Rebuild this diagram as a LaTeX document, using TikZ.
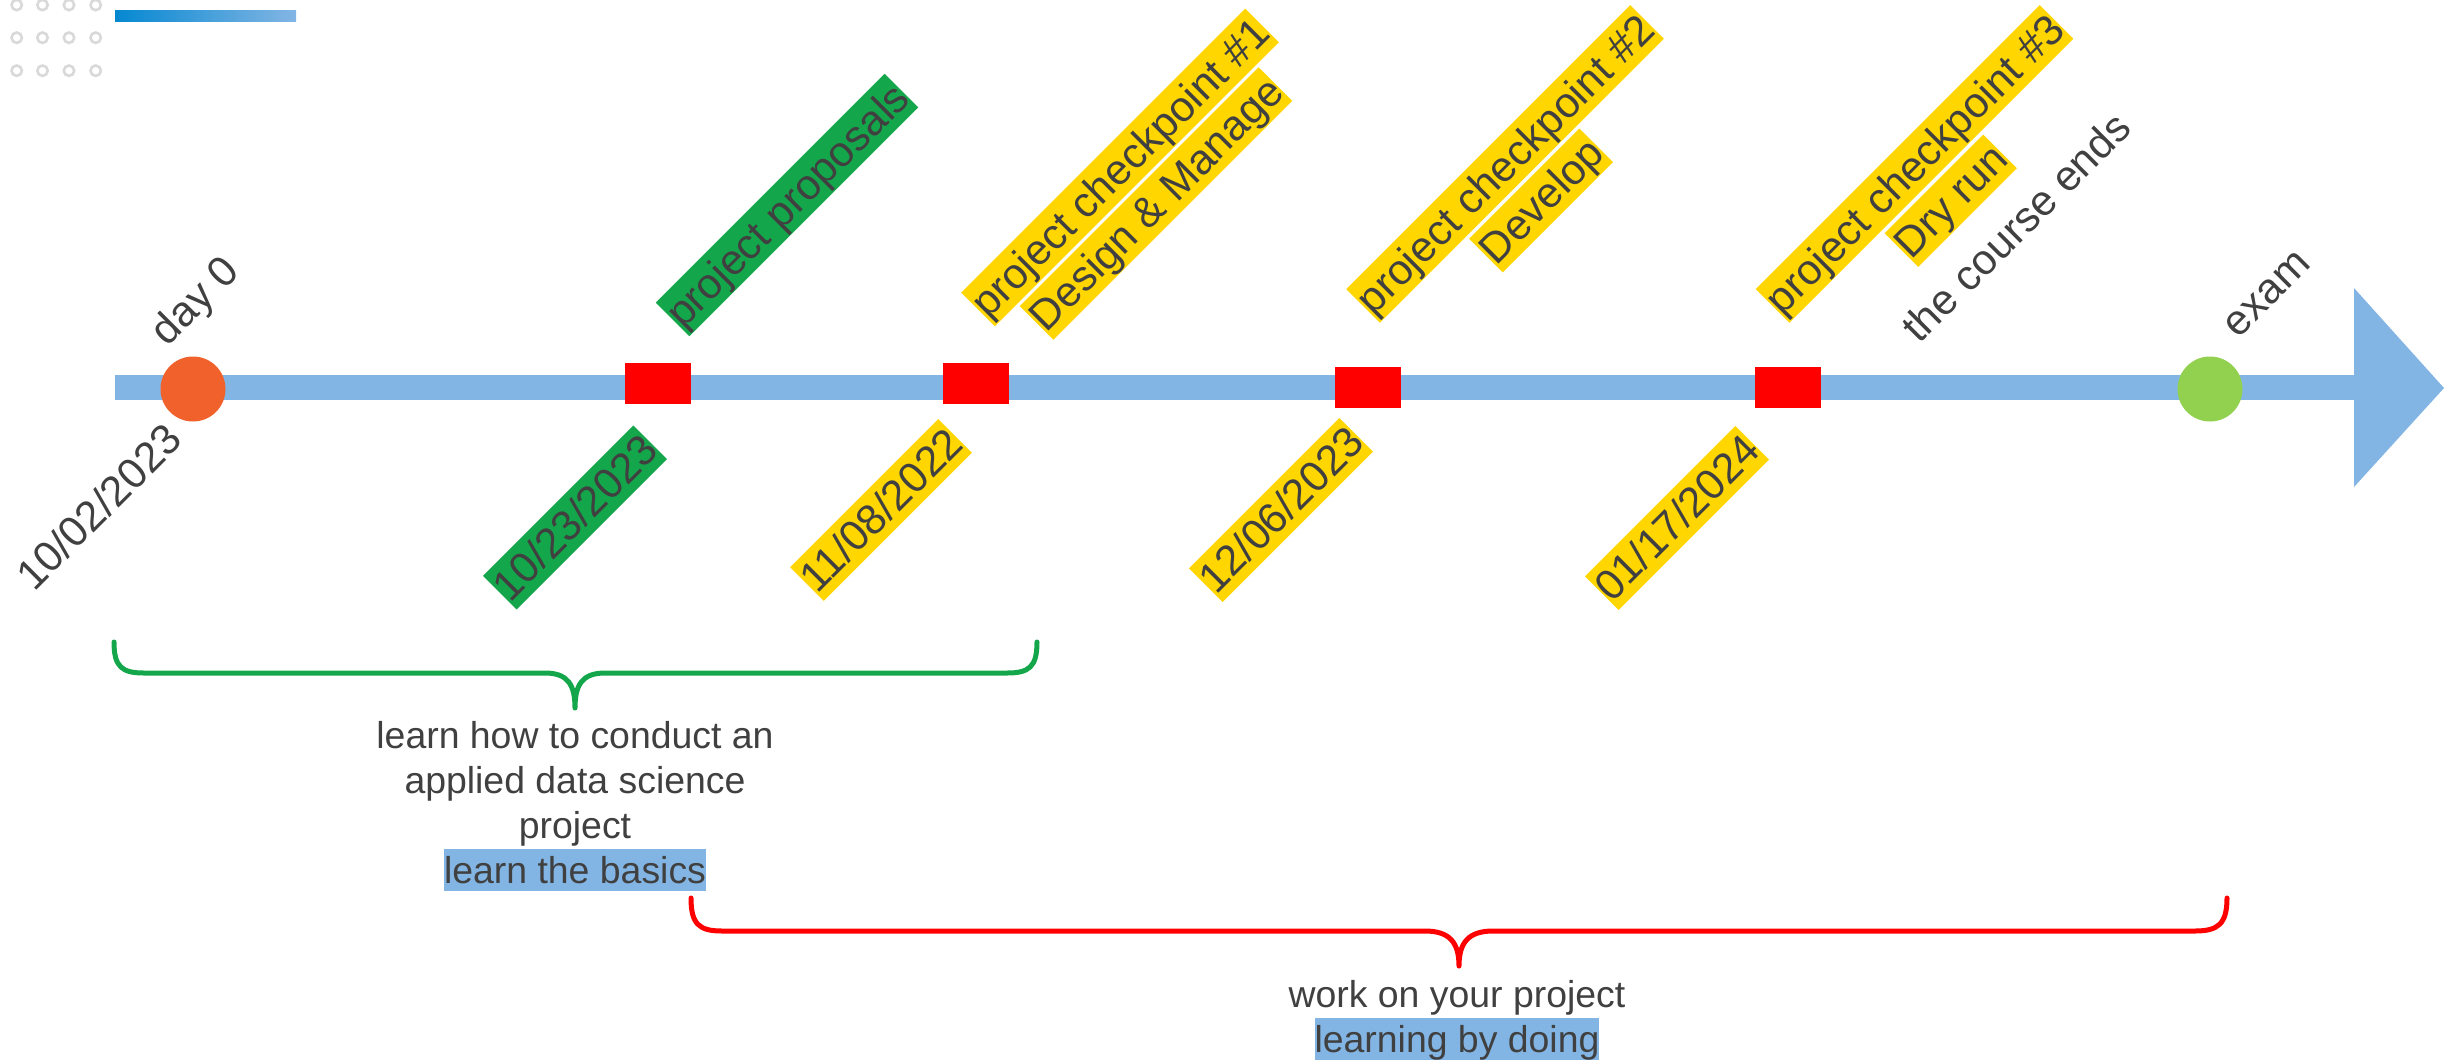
\documentclass[tikz,border=0pt]{standalone}
\usepackage{fontspec}
\setmainfont{Liberation Sans}
\definecolor{txt}{HTML}{404040}
\definecolor{barblue}{HTML}{83B5E4}
\definecolor{gboxc}{HTML}{14A64B}
\definecolor{yboxc}{HTML}{FFD600}
\definecolor{orng}{HTML}{F1612C}
\definecolor{lgreen}{HTML}{92D050}
\definecolor{gradl}{HTML}{0588D1}
\definecolor{dotgray}{HTML}{D9D9D9}
\setlength{\fboxsep}{0pt}
\newcommand{\hlbox}[1]{\colorbox{barblue}{\rule[-7.9pt]{0pt}{41.8pt}#1}}
\begin{document}
\begin{tikzpicture}[x=1pt,y=-1pt,
  lab/.style={rotate=45, inner sep=0pt, text height=38.5pt, text depth=9pt,
              font=\fontsize{42.5}{51}\selectfont, text=txt},
  glab/.style={lab, fill=gboxc},
  ylab/.style={lab, fill=yboxc},
  sqmark/.style={fill=red, minimum width=66pt, minimum height=41pt, inner sep=0pt},
  cmark/.style={circle, minimum size=65pt, inner sep=0pt},
  bracetext/.style={anchor=base, align=center, inner sep=0pt, text=txt,
              font=\fontsize{37.4}{45}\selectfont},
  brace/.style={line width=5pt, line cap=round, line join=round}]
\useasboundingbox (0,0) rectangle (2458,1061);
% decoration top-left
\foreach \x in {16.7,42.5,69,95.7}
  \foreach \y in {5,37.7,70.7}
    \draw[dotgray, line width=2.6pt] (\x,\y) circle[radius=5.2pt];
\shade[left color=gradl, right color=barblue] (115,10) rectangle (296,21);
% timeline
\fill[barblue] (115,375) rectangle (2356,400);
\fill[barblue] (2354,288) -- (2444,388) -- (2354,487) -- cycle;
% markers
\node[cmark, fill=orng] (m0) at (193,389) {};
\node[sqmark] (m1) at (658,383.5) {};
\node[sqmark] (m2) at (975.5,383.5) {};
\node[sqmark] (m3) at (1367.5,387.5) {};
\node[sqmark] (m4) at (1788,387.5) {};
\node[cmark, fill=lgreen] (m5) at (2210,389) {};
% labels above
\node[lab] (day0) at (194,300) {day 0};
\node[glab] (pp) at (787,205) {project proposals};
\node[ylab] (cp1) at (1120,167.5) {project checkpoint \#1};
\node[ylab] (dm) at (1156,203.5) {Design \& Manage};
\node[ylab] (cp2) at (1505,164) {project checkpoint \#2};
\node[ylab] (dev) at (1541,200.5) {Develop};
\node[ylab] (cp3) at (1914.5,164) {project checkpoint \#3};
\node[ylab] (dry) at (1950.7,200.7) {Dry run};
\node[lab] (ends) at (2016,227) {the course ends};
\node[lab] (exam) at (2265,292) {exam};
% dates below
\node[lab] (dt0) at (99,507) {10/02/2023};
\node[glab] (dt1) at (575,517.5) {10/23/2023};
\node[ylab] (dt2) at (881,510) {11/08/2022};
\node[ylab] (dt3) at (1281,510) {12/06/2023};
\node[ylab] (dt4) at (1677,518) {01/17/2024};
% braces
\draw[brace, gboxc] (114,642) .. controls (114,667) and (122,673) .. (144,673)
  -- (545,673) .. controls (568,673) and (575,685) .. (575,708)
  .. controls (575,685) and (582,673) .. (605,673)
  -- (1007,673) .. controls (1029,673) and (1037,667) .. (1037,642);
\draw[brace, red] (691,898) .. controls (691,924) and (699,931) .. (722,931)
  -- (1425,931) .. controls (1450,931) and (1459,943) .. (1459,966)
  .. controls (1459,943) and (1468,931) .. (1493,931)
  -- (2195,931) .. controls (2218,931) and (2227,924) .. (2227,898);
% brace texts (base = baseline of the last line)
\node[bracetext] (basics) at (575,883) {learn how to conduct an\\applied data science\\project\\\hlbox{learn the basics}};
\node[bracetext] (doing) at (1457,1052) {work on your project\\\hlbox{learning by doing}};
\end{tikzpicture}
\end{document}
